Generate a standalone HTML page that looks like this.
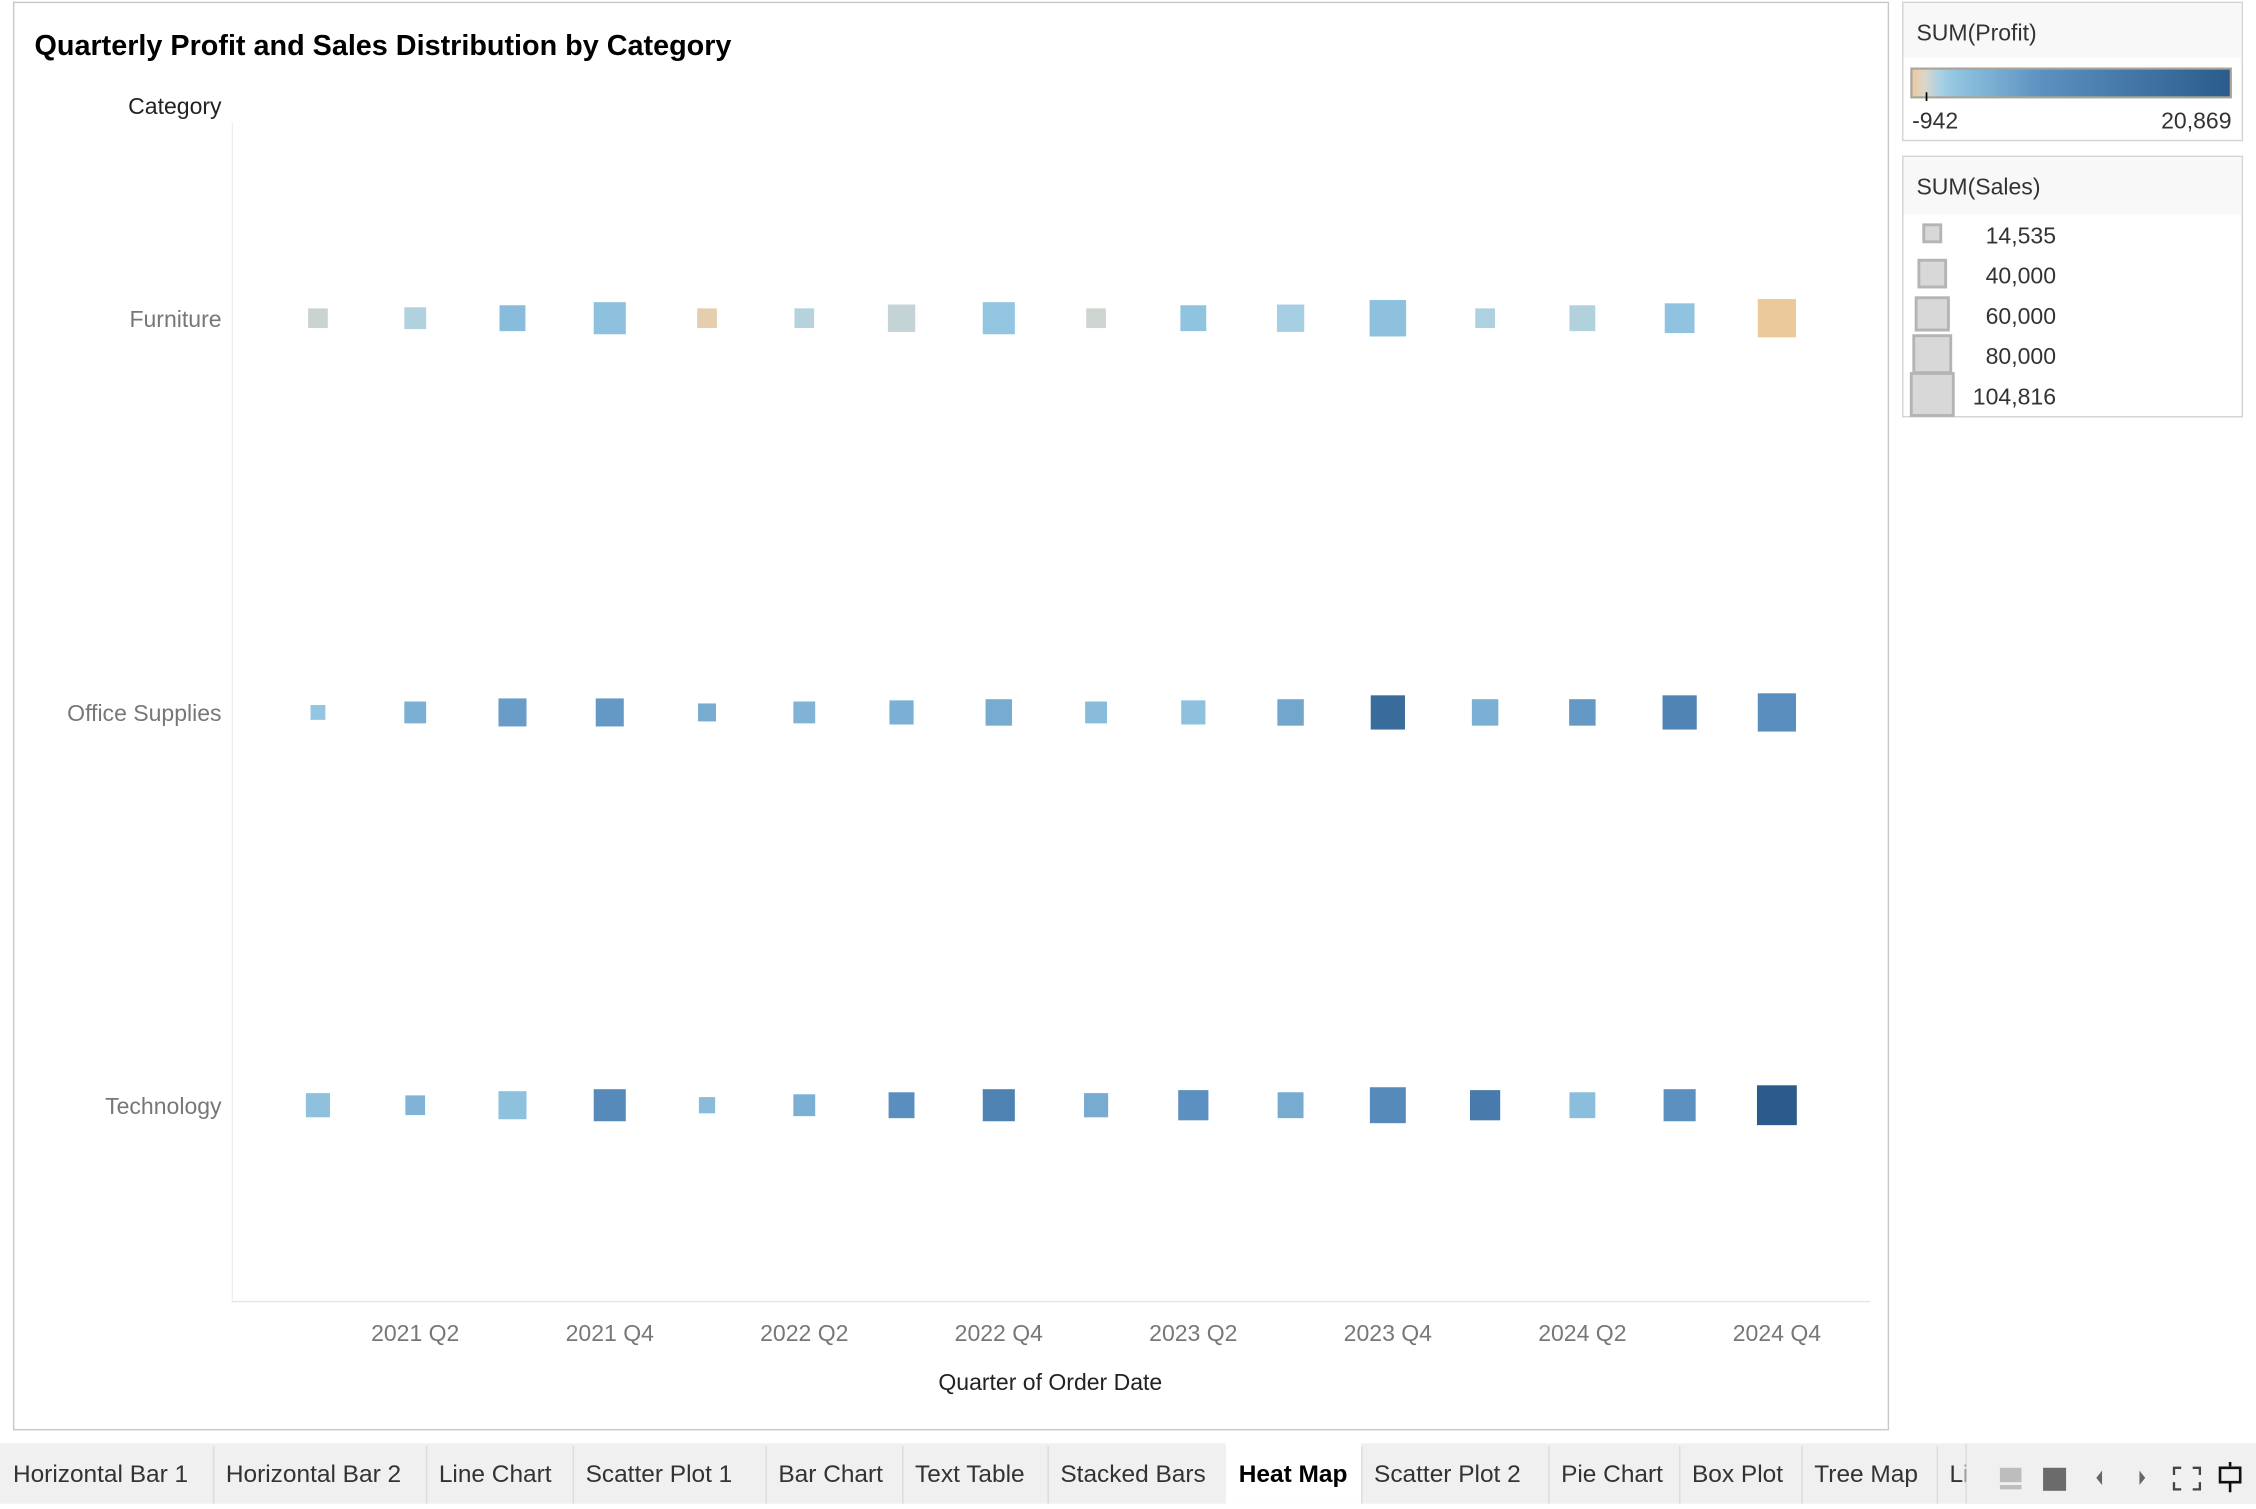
<!DOCTYPE html>
<html><head><meta charset="utf-8">
<style>
html,body{margin:0;padding:0;background:#fff;}
body{width:2256px;height:1504px;overflow:hidden;}
svg text{font-family:"Liberation Sans",sans-serif;}
</style></head>
<body>
<svg id="root" width="2256" height="1504" viewBox="0 0 1568 1045" xmlns="http://www.w3.org/2000/svg">
  <defs>
    <linearGradient id="pg" x1="0" x2="1" y1="0" y2="0">
      <stop offset="0" stop-color="#ebc99b"/>
      <stop offset="0.04" stop-color="#dcd6c8"/>
      <stop offset="0.09" stop-color="#a8d0e4"/>
      <stop offset="0.135" stop-color="#92c5e0"/>
      <stop offset="0.41" stop-color="#5b90c0"/>
      <stop offset="1" stop-color="#2a5b8b"/>
    </linearGradient>
  </defs>
  <rect x="0" y="0" width="1568" height="1045" fill="#fff"/>
  <!-- main panel -->
  <rect x="9.5" y="1.5" width="1303" height="992" fill="#fff" stroke="#c8c8c8" stroke-width="1"/>
  <text x="24" y="38" font-size="20" font-weight="bold" fill="#000">Quarterly Profit and Sales Distribution by Category</text>
  <text x="154" y="79" font-size="16" text-anchor="end" fill="#222">Category</text>
  <line x1="161.5" y1="85" x2="161.5" y2="905" stroke="#eeeeee"/>
  <line x1="161" y1="904.5" x2="1300" y2="904.5" stroke="#e6e6e6"/>
  <g id="rowlabels"></g>
  <g id="marks"></g>
  <g id="xticks"></g>
  <text x="730" y="966" font-size="16" text-anchor="middle" fill="#222">Quarter of Order Date</text>

  <!-- profit legend -->
  <g>
    <rect x="1322.5" y="1.5" width="236" height="96" fill="#fff" stroke="#d4d4d4"/>
    <rect x="1323" y="2" width="235" height="38" fill="#f8f8f8"/>
    <text x="1332" y="28" font-size="16" fill="#333">SUM(Profit)</text>
    <rect x="1328.5" y="47.5" width="222" height="20" fill="url(#pg)" stroke="#a8a49a" stroke-width="1.5"/>
    <line x1="1339" y1="64" x2="1339" y2="70" stroke="#000" stroke-width="1.2"/>
    <text x="1329" y="89" font-size="16" fill="#333">-942</text>
    <text x="1551" y="89" font-size="16" fill="#333" text-anchor="end">20,869</text>
  </g>
  <!-- sales legend -->
  <g>
    <rect x="1322.5" y="108.5" width="236" height="181" fill="#fff" stroke="#d4d4d4"/>
    <rect x="1323" y="109" width="235" height="40" fill="#f8f8f8"/>
    <text x="1332" y="135" font-size="16" fill="#333">SUM(Sales)</text>
    <g id="saleslegend"></g>
  </g>

  <!-- tab bar -->
  <rect x="0" y="1003" width="1568" height="42" fill="#f0f0f0"/>
  <g id="tabs"></g>
  <g>
    <rect x="1367" y="1003" width="201" height="42" fill="#f0f0f0"/>
    <line x1="1366.5" y1="1003" x2="1366.5" y2="1045" stroke="#dcdcdc"/>
    <rect x="1390" y="1020" width="15" height="10" fill="#bdbdbd"/>
    <rect x="1390" y="1032" width="15" height="3" fill="#bdbdbd"/>
    <rect x="1420" y="1020" width="16" height="16" fill="#6b6b6b"/>
    <path d="M1461 1022 L1457 1027 L1461 1032 Z" fill="#666"/>
    <path d="M1487 1022 L1491 1027 L1487 1032 Z" fill="#666"/>
    <path d="M1511 1025 v-5 h5 M1524 1020 h5 v5 M1529 1030 v5 h-5 M1516 1035 h-5 v-5" fill="none" stroke="#444" stroke-width="1.6"/>
    <path d="M1550 1016 v3 M1543 1020 h14 v10 h-14 Z M1550 1030 v7" fill="none" stroke="#111" stroke-width="1.8"/>
  </g>
</svg>
<script>
const categories = ["Furniture", "Office Supplies", "Technology"];
const quarters = ["2021 Q1","2021 Q2","2021 Q3","2021 Q4","2022 Q1","2022 Q2","2022 Q3","2022 Q4","2023 Q1","2023 Q2","2023 Q3","2023 Q4","2024 Q1","2024 Q2","2024 Q3","2024 Q4"];
const tickLabels = ["2021 Q2","2021 Q4","2022 Q2","2022 Q4","2023 Q2","2023 Q4","2024 Q2","2024 Q4"];
const salesFurniture = [25600,31500,44200,67900,25600,25600,49300,67900,25600,44200,49300,88000,25600,44200,58500,96600];
const salesOffice = [14535,31500,51900,51900,21300,31500,38500,46200,31500,38500,46200,77300,46200,46200,77300,96600];
const salesTechnology = [38500,25600,51900,67900,17400,31500,44200,67900,38500,60200,44200,85300,60200,44200,67900,104816];
const profitFurniture = [300,800,3000,2500,-600,700,400,2000,200,2200,1100,2500,900,800,2200,-942];
const profitOffice = [2000,4500,6500,7000,5000,4000,4500,5000,3000,2500,5500,17000,4500,7000,11000,8500];
const profitTechnology = [2500,4000,2500,9500,3000,4500,8500,11500,5000,8000,5000,9500,13000,2800,8000,20869];
const legendSales = [14535,40000,60000,80000,104816];
const legendLabels = ["14,535","40,000","60,000","80,000","104,816"];
const tabNames = ["Horizontal Bar 1","Horizontal Bar 2","Line Chart","Scatter Plot 1","Bar Chart","Text Table","Stacked Bars","Heat Map","Scatter Plot 2","Pie Chart","Box Plot","Tree Map","Li"];

const NS = "http://www.w3.org/2000/svg";
const salesSeries = [salesFurniture, salesOffice, salesTechnology];
const profitSeries = [profitFurniture, profitOffice, profitTechnology];
const xScale = i => 221 + i * (1235 - 221) / (quarters.length - 1);
const yScale = c => [221, 495, 768][c];
const maxSales = 104816;
const sizeScale = v => 27.7 * Math.sqrt(v / maxSales);
const stops = [[-942,[235,201,155]],[-100,[220,214,200]],[1000,[168,208,228]],[2000,[146,197,224]],[8000,[91,144,192]],[20869,[42,91,139]]];
function color(v){
  if (v <= stops[0][0]) return "rgb("+stops[0][1].join(",")+")";
  for (let i=1;i<stops.length;i++){
    if (v <= stops[i][0]){
      const t=(v-stops[i-1][0])/(stops[i][0]-stops[i-1][0]);
      const a=stops[i-1][1], b=stops[i][1];
      return "rgb("+a.map((x,k)=>Math.round(x+(b[k]-x)*t)).join(",")+")";
    }
  }
  return "rgb("+stops[stops.length-1][1].join(",")+")";
}
function mk(tag, attrs, parent){
  const el=document.createElementNS(NS,tag);
  for (const k in attrs) el.setAttribute(k, attrs[k]);
  parent.appendChild(el);
  return el;
}
const rl=document.getElementById("rowlabels");
categories.forEach((c,ci)=>{
  const t=mk("text",{x:154,y:yScale(ci)+6,"font-size":16,"text-anchor":"end",fill:"#777"},rl);
  
  
  t.textContent=c;
});
const marks=document.getElementById("marks");
salesSeries.forEach((ser,ci)=>{
  ser.forEach((v,qi)=>{
    const s=sizeScale(v);
    const r=mk("rect",{x:xScale(qi)-s/2,y:yScale(ci)-s/2,width:s,height:s,fill:color(profitSeries[ci][qi])},marks);
    
    
  });
});
const xt=document.getElementById("xticks");
tickLabels.forEach(l=>{
  const i=quarters.indexOf(l);
  const t=mk("text",{x:xScale(i),y:932,"font-size":16,"text-anchor":"middle",fill:"#777"},xt);
  
  
  t.textContent=l;
});
const sl=document.getElementById("saleslegend");
legendSales.forEach((v,i)=>{
  const s=sizeScale(v)+1.5, cx=1343, cy=162+i*28;
  const r=mk("rect",{x:cx-s/2,y:cy-s/2,width:s,height:s,fill:"#d8d8d8",stroke:"#b4b4b4","stroke-width":2},sl);
  
  
  const t=mk("text",{x:1429,y:cy+7,"font-size":16,"text-anchor":"end",fill:"#333"},sl);
  
  
  t.textContent=legendLabels[i];
});
const tabsG=document.getElementById("tabs");
const tabEdges=[0,148,296,398,532,627,728,852,946,1076,1167,1252,1346,1367];
tabNames.forEach((n,i)=>{
  const x0=tabEdges[i], x1=tabEdges[i+1];
  const active = n==="Heat Map";
  const g=mk("g",{},tabsG);
  
  
  if (active) mk("rect",{x:x0,y:1003,width:x1-x0,height:42,fill:"#fff"},g);
  mk("line",{x1:x1+0.5,y1:1005,x2:x1+0.5,y2:1045,stroke:"#dcdcdc"},g);
  const t=mk("text",{x:x0+(i===0?9:9),y:1030,"font-size":17,fill:active?"#000":"#333","font-weight":active?"bold":"normal"},g);
  t.textContent=n;
});
</script>
</body></html>
